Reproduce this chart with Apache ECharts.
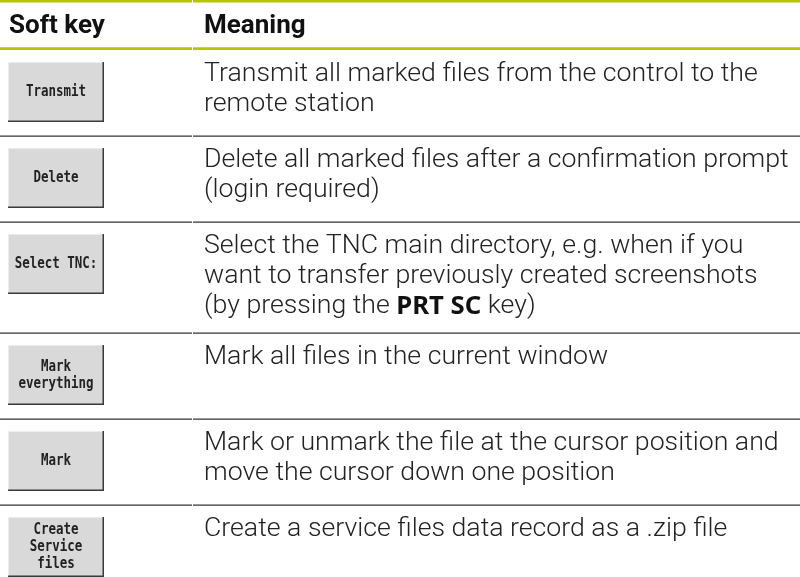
<!DOCTYPE html>
<html><head><meta charset="utf-8">
<script src="https://cdn.jsdelivr.net/npm/echarts@6/dist/echarts.min.js"></script>
<style>html,body{margin:0;padding:0;background:#fff}#c{width:800px;height:577px}</style>
</head><body><div id="c"></div>
<script>
const headers = ['Soft key', 'Meaning'];
const softKeys = ['Transmit', 'Delete', 'Select TNC:', 'Mark\neverything', 'Mark', 'Create\nService\nfiles'];
const meanings = [
  ['Transmit all marked files from the control to the', 'remote station'],
  ['Delete all marked files after a confirmation prompt', '(login required)'],
  ['Select the TNC main directory, e.g. when if you', 'want to transfer previously created screenshots', '(by pressing the {b|PRT SC} key)'],
  ['Mark all files in the current window'],
  ['Mark or unmark the file at the cursor position and', 'move the cursor down one position'],
  ['Create a service files data record as a .zip file']
];

const GREEN = '#b7c400';
const W = 800, COL = 192, TX = 204;
const FS = 26.7, LH = 30;
const els = [];
els.push({type:'rect', shape:{x:0,y:0,width:COL,height:2.5}, style:{fill:GREEN}});
els.push({type:'rect', shape:{x:COL+1,y:0,width:W-COL-1,height:2.5}, style:{fill:GREEN}});
els.push({type:'rect', shape:{x:0,y:47.3,width:COL,height:2.7}, style:{fill:GREEN}});
els.push({type:'rect', shape:{x:COL+1,y:47.3,width:W-COL-1,height:2.7}, style:{fill:GREEN}});
function txt(x, yBase, text, opt) {
  return {type:'text', x:x, y:yBase - 8.5, style:Object.assign({
    text:text, fontSize:FS, fontFamily:'Roboto', fontWeight:300, fill:'#222',
    verticalAlign:'middle', align:'left',
    rich:{b:{fontFamily:'"Noto Sans", "Open Sans"', fontWeight:'bold', fontSize:FS-1, fill:'#111'}}
  }, opt||{})};
}
els.push(txt(9, 34.5, headers[0], {fontWeight:'bold', fill:'#111', fontSize:26}));
els.push(txt(TX, 34.5, headers[1], {fontWeight:'bold', fill:'#111', fontSize:26}));

let rowTop = 50;
softKeys.forEach(function(k, i) {
  const lines = meanings[i];
  const h = Math.max(86, lines.length * LH + 21);
  if (i > 0) {
    els.push({type:'rect', shape:{x:0,y:rowTop-0.6,width:COL,height:1.3}, style:{fill:'#333'}});
    els.push({type:'rect', shape:{x:COL+1,y:rowTop-0.6,width:W-COL-1,height:1.3}, style:{fill:'#333'}});
  }
  const bx = 8, by = rowTop + 12, bw = 96, bh = 60;
  els.push({type:'rect', shape:{x:bx,y:by,width:bw,height:bh}, style:{fill:'#d9d9d9'}});
  els.push({type:'rect', shape:{x:bx,y:by,width:bw,height:1}, style:{fill:'#ececec'}});
  els.push({type:'rect', shape:{x:bx,y:by,width:1,height:bh}, style:{fill:'#ececec'}});
  els.push({type:'rect', shape:{x:bx+bw-1.5,y:by,width:1.5,height:bh}, style:{fill:'#3a3a3a'}});
  els.push({type:'rect', shape:{x:bx,y:by+bh-1.5,width:bw,height:1.5}, style:{fill:'#3a3a3a'}});
  els.push({type:'text', x:bx+bw/2, y:by+bh/2, scaleX:0.78, originX:0, originY:0,
    style:{text:k, fontFamily:'"DejaVu Sans Mono"', fontSize:16, fontWeight:'bold', lineHeight:17, fill:'#222',
      align:'center', verticalAlign:'middle'}});
  lines.forEach(function(l, j) { els.push(txt(TX, rowTop + 33 + LH * j, l)); });
  rowTop += h;
});

const chart = echarts.init(document.getElementById('c'), null, {renderer:'canvas'});
chart.setOption({animation:false, backgroundColor:'#fff', graphic:{elements:els}});
</script></body></html>
